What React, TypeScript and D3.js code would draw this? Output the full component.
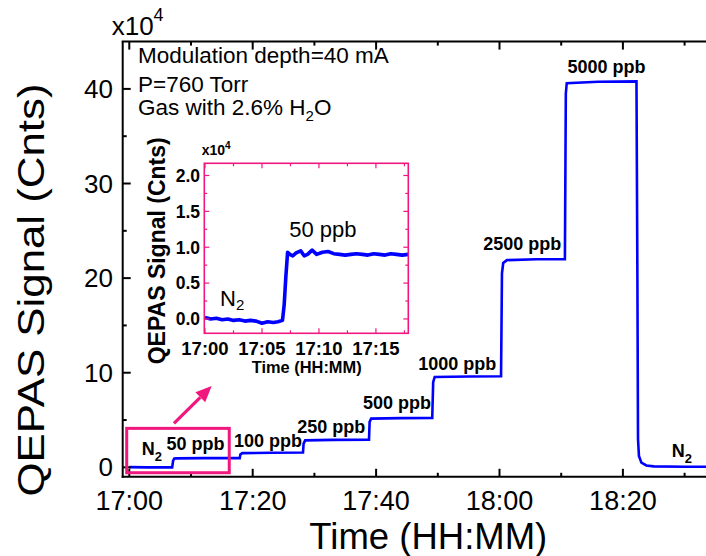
import React from "react";
import * as d3 from "d3";

// ---------- data (minutes after 17:00, signal in 1e4 counts) ----------
const mainTrace: [number, number][] = [
  [0, 0.02], [3, 0.0], [6.95, 0.0], [7.1, 0.7], [7.3, 0.93], [7.6, 0.95], [12, 0.97],
  [17.9, 0.97], [18.0, 1.35], [18.3, 1.5], [23, 1.54], [28.15, 1.56],
  [28.25, 2.5], [28.5, 2.85], [33, 2.9], [38.85, 2.92],
  [38.95, 4.8], [39.2, 5.15], [44, 5.2], [49.1, 5.22],
  [49.25, 9.0], [49.5, 9.55], [55, 9.6], [60.25, 9.62],
  [60.4, 20.5], [60.6, 21.6], [61.2, 21.9], [66, 22.0], [70.6, 22.0],
  [70.75, 39.5], [70.9, 40.6], [76, 40.75], [82.2, 40.8],
  [82.35, 20], [82.45, 3], [82.6, 1.2], [83.0, 0.5], [83.8, 0.2], [85, 0.1], [90, 0.06], [100, 0.05],
];

const insetTrace: [number, number][] = [
  [0, 0.02], [0.5, 0.0], [1, 0.01], [1.5, -0.01], [2, 0.0], [2.5, -0.02], [3, -0.01],
  [3.5, -0.03], [4, -0.02], [4.5, -0.03], [5, -0.06], [5.5, -0.04], [6, -0.05], [6.4, -0.04],
  [6.8, -0.02], [6.95, 0.2], [7.1, 0.6], [7.25, 0.93], [7.45, 0.9], [7.7, 0.88], [8.0, 0.92],
  [8.4, 0.95], [8.7, 0.88], [9.0, 0.9], [9.4, 0.96], [9.8, 0.9], [10.3, 0.93], [10.8, 0.94],
  [11.3, 0.91], [11.8, 0.9], [12.3, 0.89], [12.8, 0.9], [13.3, 0.91], [13.8, 0.9], [14.3, 0.89],
  [14.8, 0.91], [15.3, 0.9], [15.8, 0.89], [16.3, 0.91], [16.8, 0.9], [17.3, 0.89], [17.84, 0.9],
];

const stepLabels = ["50 ppb", "100 ppb", "250 ppb", "500 ppb", "1000 ppb", "2500 ppb", "5000 ppb"];
const stepLabelMinutes = [10.73, 22.48, 32.74, 43.39, 53.14, 63.68, 77.34];
const stepLabelValues = [1.83, 2.18, 3.59, 6.13, 10.29, 22.97, 41.71];
const n2LabelMinutes = [2.01, 87.9];
const n2LabelValues = [1.3, 1.06];

const mainYTicks = [0, 10, 20, 30, 40];
const mainYMinor = [5, 15, 25, 35];
const insetYTicks = [0, 0.5, 1.0, 1.5, 2.0];
const insetYMinor = [0.25, 0.75, 1.25, 1.75];
const insetXMinorMinutes = [2.5, 7.5, 12.5, 17.5];

const infoLines = ["Modulation depth=40 mA", "P=760 Torr"];

// ---------- helpers ----------
const T0 = new Date(2020, 0, 1, 17, 0, 0).getTime();
const t = (m: number) => new Date(T0 + m * 60000);
const fmt = d3.timeFormat("%H:%M");

const FONT = "'Liberation Sans', Arial, Helvetica, sans-serif";
const PINK = "#f0177f";
const BLUE = "#0000ff";

export default function App() {
  // main scales
  const x = d3.scaleTime().domain([t(-1.07), t(100)]).range([122.7, 746.3]);
  const y = d3.scaleLinear().domain([-1, 45]).range([476.8, 41.6]);
  const left = 122.7, right = 746.3, top = y(45), bottom = y(-1);

  // inset scales
  const ix = d3.scaleTime().domain([t(-0.06), t(17.84)]).range([204.3, 408.3]);
  const iy = d3.scaleLinear().domain([-0.2, 2.17]).range([333.3, 163.3]);
  const iL = 204.3, iR = 408.3, iT = iy(2.17), iB = iy(-0.2);

  const line = d3.line<[number, number]>().x((d) => x(t(d[0]))).y((d) => y(d[1]));
  const iline = d3.line<[number, number]>().x((d) => ix(t(d[0]))).y((d) => iy(d[1]));

  const xMajor = x.ticks(d3.timeMinute.every(20)!);
  const xMinor = x.ticks(d3.timeMinute.every(10)!).filter((d) => d.getMinutes() % 20 !== 0);
  const ixMajor = ix.ticks(d3.timeMinute.every(5)!);

  // pink zoom rectangle & arrow (data coords of the main chart)
  const rx0 = x(t(-0.42)), rx1 = x(t(16.2)), ry0 = y(4.12), ry1 = y(-0.57);
  const ax0 = x(t(7.24)), ay0 = y(4.65), ax1 = x(t(13.35)), ay1 = y(8.59);
  const ang = Math.atan2(ay1 - ay0, ax1 - ax0);
  const hl = 16, hw = 7;
  const bx = ax1 - hl * Math.cos(ang), by = ay1 - hl * Math.sin(ang);
  const head = [
    [ax1, ay1],
    [bx + hw * Math.sin(ang), by - hw * Math.cos(ang)],
    [bx - hw * Math.sin(ang), by + hw * Math.cos(ang)],
  ];

  return (
    <svg
      width={706}
      height={556}
      style={{ position: "absolute", left: 0, top: 0, background: "#fff" }}
      fontFamily={FONT}
    >
      <defs>
        <clipPath id="mainclip">
          <rect x={left} y={top} width={706 - left} height={bottom - top} />
        </clipPath>
        <clipPath id="insetclip">
          <rect x={iL} y={iT} width={iR - iL} height={iB - iT} />
        </clipPath>
      </defs>
      <rect width={706} height={556} fill="#fff" />

      {/* main data */}
      <path d={line(mainTrace)!} fill="none" stroke={BLUE} strokeWidth={2.6} clipPath="url(#mainclip)" />

      {/* main axes */}
      <g stroke="#000" strokeWidth={2} fill="none">
        <line x1={left} y1={top} x2={left} y2={bottom + 1} />
        <line x1={left - 1} y1={bottom} x2={right} y2={bottom} />
        <line x1={left - 1} y1={top} x2={right} y2={top} />
        {xMajor.map((d, i) => (
          <g key={"xm" + i}>
            <line x1={x(d)} x2={x(d)} y1={bottom} y2={bottom - 8} />
            <line x1={x(d)} x2={x(d)} y1={top} y2={top + 8} />
          </g>
        ))}
        {xMinor.map((d, i) => (
          <g key={"xn" + i}>
            <line x1={x(d)} x2={x(d)} y1={bottom} y2={bottom - 4} />
            <line x1={x(d)} x2={x(d)} y1={top} y2={top + 4} />
          </g>
        ))}
        {mainYTicks.map((v) => (
          <line key={"ym" + v} x1={left} x2={left + 8} y1={y(v)} y2={y(v)} />
        ))}
        {mainYMinor.map((v) => (
          <line key={"yn" + v} x1={left} x2={left + 4} y1={y(v)} y2={y(v)} />
        ))}
      </g>

      {/* main tick labels */}
      {xMajor
        .filter((d) => x(d) < 680)
        .map((d, i) => (
          <text key={"xl" + i} x={x(d)} y={510} fontSize={27} textAnchor="middle">
            {fmt(d)}
          </text>
        ))}
      {mainYTicks.map((v) => (
        <text key={"yl" + v} x={113} y={y(v) + 9} fontSize={26} textAnchor="end">
          {v}
        </text>
      ))}
      <text x={111.7} y={35} fontSize={26}>
        x10<tspan fontSize={18} dy={-14}>4</tspan>
      </text>

      {/* axis titles */}
      <text x={428.3} y={549} fontSize={36.5} textAnchor="middle">Time (HH:MM)</text>
      <text
        transform="translate(43.5,290) rotate(-90)"
        fontSize={36}
        textAnchor="middle"
        textLength={413}
        lengthAdjust="spacingAndGlyphs"
      >
        QEPAS Signal (Cnts)
      </text>

      {/* info text */}
      {infoLines.map((s, i) => (
        <text key={s} x={138} y={63 + i * 28.5} fontSize={22.5}>{s}</text>
      ))}
      <text x={138} y={114.5} fontSize={22.5}>
        Gas with 2.6% H<tspan fontSize={15} dy={6}>2</tspan><tspan dy={-6}>O</tspan>
      </text>

      {/* step labels */}
      {stepLabels.map((s, i) => (
        <text
          key={s}
          x={x(t(stepLabelMinutes[i]))}
          y={y(stepLabelValues[i])}
          fontSize={18}
          fontWeight="bold"
          textAnchor="middle"
        >
          {s}
        </text>
      ))}
      {n2LabelMinutes.map((m, i) => (
        <text key={"n2" + i} x={x(t(m))} y={y(n2LabelValues[i])} fontSize={18} fontWeight="bold">
          N<tspan fontSize={13} dy={6}>2</tspan>
        </text>
      ))}

      {/* zoom rectangle & arrow */}
      <rect x={rx0} y={ry0} width={rx1 - rx0} height={ry1 - ry0} fill="none" stroke={PINK} strokeWidth={3} />
      <line x1={ax0} y1={ay0} x2={bx} y2={by} stroke={PINK} strokeWidth={3.2} />
      <polygon points={head.map((p) => p.join(",")).join(" ")} fill={PINK} />

      {/* ---------- inset ---------- */}
      <rect x={iL} y={iT} width={iR - iL} height={iB - iT} fill="#fff" />
      <path d={iline(insetTrace)!} fill="none" stroke={BLUE} strokeWidth={3.6} strokeLinejoin="round" clipPath="url(#insetclip)" />
      <g stroke={PINK} strokeWidth={1.2} fill="none">
        {ixMajor.map((d, i) => (
          <g key={"ixm" + i}>
            <line x1={ix(d)} x2={ix(d)} y1={iB} y2={iB - 5} />
            <line x1={ix(d)} x2={ix(d)} y1={iT} y2={iT + 5} />
          </g>
        ))}
        {insetXMinorMinutes.map((m) => (
          <g key={"ixn" + m}>
            <line x1={ix(t(m))} x2={ix(t(m))} y1={iB} y2={iB - 3} />
            <line x1={ix(t(m))} x2={ix(t(m))} y1={iT} y2={iT + 3} />
          </g>
        ))}
        {insetYTicks.map((v) => (
          <g key={"iym" + v}>
            <line x1={iL} x2={iL + 5} y1={iy(v)} y2={iy(v)} />
            <line x1={iR} x2={iR - 5} y1={iy(v)} y2={iy(v)} />
          </g>
        ))}
        {insetYMinor.map((v) => (
          <g key={"iyn" + v}>
            <line x1={iL} x2={iL + 3} y1={iy(v)} y2={iy(v)} />
            <line x1={iR} x2={iR - 3} y1={iy(v)} y2={iy(v)} />
          </g>
        ))}
        <rect x={iL} y={iT} width={iR - iL} height={iB - iT} strokeWidth={1.6} />
      </g>
      {insetYTicks.map((v) => (
        <text key={"iyl" + v} x={200} y={iy(v) + 6.3} fontSize={17.5} fontWeight="bold" textAnchor="end">
          {v.toFixed(1)}
        </text>
      ))}
      {ixMajor.map((d, i) => (
        <text key={"ixl" + i} x={ix(d)} y={355} fontSize={18.5} fontWeight="bold" textAnchor="middle">
          {fmt(d)}
        </text>
      ))}
      <text x={306.7} y={373.3} fontSize={16.4} fontWeight="bold" textAnchor="middle">Time (HH:MM)</text>
      <text transform="translate(165,250.8) rotate(-90)" fontSize={23} fontWeight="bold" textAnchor="middle">
        QEPAS Signal (Cnts)
      </text>
      <text x={201.7} y={155} fontSize={14} fontWeight="bold">
        x10<tspan fontSize={10} dy={-6}>4</tspan>
      </text>
      <text x={ix(t(7.39))} y={iy(1.148)} fontSize={22}>50 ppb</text>
      <text x={ix(t(1.32))} y={iy(0.185)} fontSize={22}>
        N<tspan fontSize={15} dy={4}>2</tspan>
      </text>
    </svg>
  );
}
